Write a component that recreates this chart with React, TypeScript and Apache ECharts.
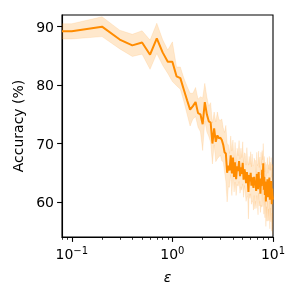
import React, { useEffect, useRef } from "react";
import * as echarts from "echarts";

const epsilons = [
  0.08, 0.1, 0.2, 0.3, 0.4, 0.5, 0.6, 0.7, 0.8, 0.9,
  1.0, 1.1, 1.2, 1.3, 1.4, 1.5, 1.6, 1.7, 1.8, 1.9,
  2.0, 2.1, 2.2, 2.3, 2.4, 2.5, 2.6, 2.7, 2.8, 2.9,
  3.0, 3.1, 3.2, 3.3, 3.4, 3.5, 3.6, 3.7, 3.8, 3.9,
  4.0, 4.1, 4.2, 4.3, 4.4, 4.5, 4.6, 4.7, 4.8, 4.9,
  5.0, 5.1, 5.2, 5.3, 5.4, 5.5, 5.6, 5.7, 5.8, 5.9,
  6.0, 6.1, 6.2, 6.3, 6.4, 6.5, 6.6, 6.7, 6.8, 6.9,
  7.0, 7.1, 7.2, 7.3, 7.4, 7.5, 7.6, 7.7, 7.8, 7.9,
  8.0, 8.1, 8.2, 8.3, 8.4, 8.5, 8.6, 8.7, 8.8, 8.9,
  9.0, 9.1, 9.2, 9.3, 9.4, 9.5, 9.6, 9.7, 9.8, 9.9, 10.0,
];

const accuracyMean = [
  89.2, 89.2, 90.0, 87.8, 86.8, 87.3, 85.2, 88.0, 85.6, 84.0,
  84.0, 81.5, 81.2, 79.2, 77.4, 75.8, 76.4, 77.1, 75.2, 75.0,
  73.3, 77.1, 75.0, 73.8, 73.6, 70.0, 72.6, 70.3, 71.4, 70.9,
  71.0, 70.6, 69.8, 68.5, 68.3, 65.0, 66.2, 65.4, 68.0, 64.9,
  67.6, 64.3, 66.8, 63.9, 66.1, 65.3, 67.0, 64.4, 65.9, 64.8,
  66.7, 63.8, 65.6, 64.9, 63.2, 65.1, 64.0, 61.7, 64.6, 63.5,
  65.0, 62.8, 64.2, 63.1, 62.4, 64.3, 62.9, 63.6, 61.9, 64.8,
  63.0, 62.2, 65.1, 62.6, 63.9, 61.4, 64.0, 62.7, 65.5, 63.2,
  66.6, 62.1, 64.3, 61.2, 63.5, 60.1, 62.8, 61.5, 63.9, 60.8,
  62.6, 61.2, 64.2, 60.4, 62.9, 61.0, 63.6, 59.6, 62.3, 60.9, 60.4,
];

const accuracyStd = [
  1.3, 1.3, 1.7, 1.6, 1.9, 2.0, 2.5, 2.6, 2.2, 2.0,
  3.4, 1.6, 1.9, 2.0, 2.4, 2.8, 2.2, 2.5, 2.4, 3.0,
  4.5, 3.2, 3.0, 2.6, 3.4, 3.5, 2.8, 3.4, 4.0, 3.2,
  3.0, 3.6, 2.9, 3.4, 4.8, 5.0, 3.6, 2.9, 3.3, 3.8,
  3.0, 2.6, 3.4, 2.8, 3.1, 2.6, 3.5, 2.9, 3.3, 2.8,
  3.6, 3.0, 2.8, 3.4, 3.1, 4.2, 3.0, 4.6, 3.2, 2.9,
  3.6, 3.2, 4.0, 3.1, 3.8, 3.2, 4.1, 3.5, 3.0, 3.7,
  3.2, 4.4, 3.6, 3.3, 3.8, 3.2, 4.5, 3.6, 3.3, 4.0,
  3.4, 4.2, 3.5, 3.9, 3.3, 4.3, 3.6, 4.8, 3.7, 4.1,
  3.8, 4.4, 3.6, 5.0, 3.9, 4.4, 4.0, 4.6, 4.2, 5.0, 6.0,
];

const yTicks = [60, 70, 80, 90];
const xMajorTicks = [0.1, 1, 10];
const xMinorTicks = [0.08, 0.09, 0.2, 0.3, 0.4, 0.5, 0.6, 0.7, 0.8, 0.9, 2, 3, 4, 5, 6, 7, 8, 9];

const FONT = "DejaVu Sans";
const ORANGE = "#ff8c00";
const BAND = "rgba(255,140,0,0.2)";

export default function App() {
  const ref = useRef<HTMLDivElement>(null);
  useEffect(() => {
    document.body.style.margin = "0";
    const chart = echarts.init(ref.current!, null, { renderer: "svg" });
    const bandData = epsilons.map((x, i) => [x, accuracyMean[i] - accuracyStd[i], accuracyMean[i] + accuracyStd[i]]);
    const mean = epsilons.map((x, i) => [x, accuracyMean[i]]);
    chart.setOption({
      animation: false,
      grid: {
        left: 62, right: 27, top: 15, bottom: 63,
        show: true, borderColor: "#000", borderWidth: 1.1, backgroundColor: "transparent",
      },
      xAxis: [
        {
          type: "log", logBase: 10, min: 0.08, max: 10,
          name: "ε", nameLocation: "middle", nameGap: 33,
          nameTextStyle: { fontFamily: FONT, fontSize: 14, fontStyle: "italic", color: "#000" },
          axisLine: { show: true, onZero: false, lineStyle: { color: "#000", width: 1.1 } },
          axisTick: { show: true, length: 4.9, customValues: xMajorTicks, lineStyle: { color: "#000", width: 1.1 } },
          axisLabel: {
            customValues: xMajorTicks, margin: 8, color: "#000",
            formatter: (v: number) => {
              const e = Math.round(Math.log10(v));
              return `{b|10}{s|${e < 0 ? "\u2212" + -e : e}}`;
            },
            rich: {
              b: { fontFamily: FONT, fontSize: 14, color: "#000" },
              s: { fontFamily: FONT, fontSize: 10, color: "#000", padding: [0, 0, 8, 0] },
            },
          },
          splitLine: { show: false },
          minorTick: { show: false },
        },
        {
          type: "log", logBase: 10, min: 0.08, max: 10, position: "bottom",
          axisLine: { show: false },
          axisTick: { show: true, length: 2.8, customValues: xMinorTicks, lineStyle: { color: "#000", width: 0.8 } },
          axisLabel: { show: false },
          splitLine: { show: false },
        },
      ],
      yAxis: {
        type: "value", min: 54, max: 92,
        name: "Accuracy (%)", nameLocation: "middle", nameGap: 27, nameRotate: 90,
        nameTextStyle: { fontFamily: FONT, fontSize: 14, color: "#000" },
        axisLine: { show: true, lineStyle: { color: "#000", width: 1.1 } },
        axisTick: { show: true, length: 4.9, customValues: yTicks, lineStyle: { color: "#000", width: 1.1 } },
        axisLabel: { customValues: yTicks, margin: 8, fontFamily: FONT, fontSize: 14, color: "#000" },
        splitLine: { show: false },
      },
      series: [
        {
          type: "custom",
          data: bandData,
          encode: { x: 0, y: [1, 2] },
          clip: true,
          z: 1,
          renderItem: (params: any, api: any) => {
            if (params.dataIndex !== 0) return null;
            const upper = bandData.map((d) => api.coord([d[0], d[2]]));
            const lowerPts = bandData.map((d) => api.coord([d[0], d[1]])).reverse();
            return {
              type: "polygon",
              shape: { points: upper.concat(lowerPts) },
              style: { fill: BAND, stroke: "rgba(255,140,0,0.12)", lineWidth: 1 },
            };
          },
        },
        {
          type: "line", data: mean, symbol: "none",
          lineStyle: { color: ORANGE, width: 2 }, z: 3,
        },
      ],
    });
    return () => chart.dispose();
  }, []);
  return <div ref={ref} style={{ width: 300, height: 300, position: "fixed", left: 0, top: 0 }} />;
}
